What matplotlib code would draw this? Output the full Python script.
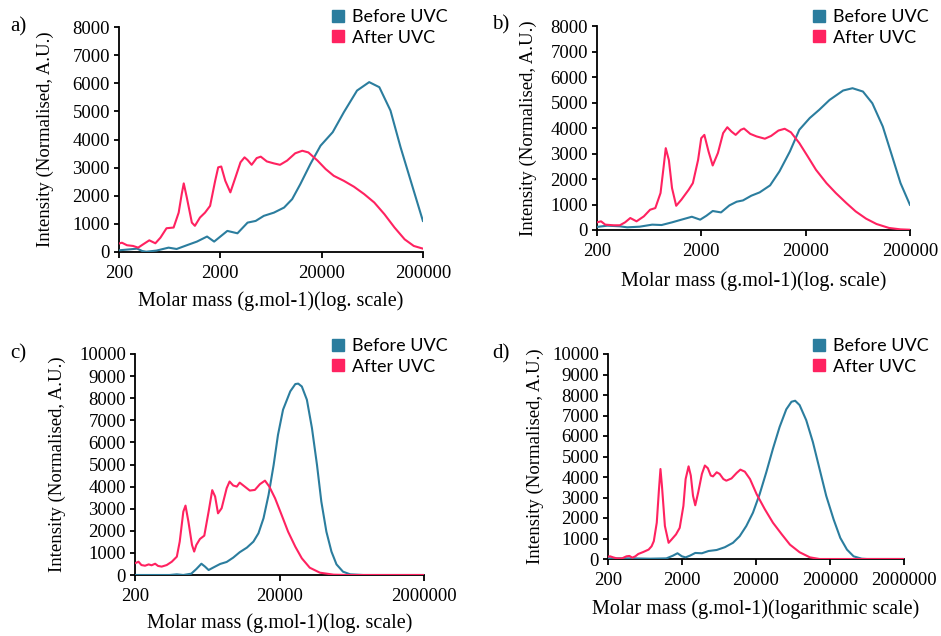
import numpy as np
import matplotlib
matplotlib.use('Agg')
import matplotlib.pyplot as plt
from matplotlib.lines import Line2D
from matplotlib import transforms

# colours
BLUE = '#2b7d9e'
PINK = '#ff2260'

# ---- data: log10(molar mass) and intensity ----
# a)
a_before_logm = [2.30, 2.41, 2.48, 2.53, 2.57, 2.67, 2.79, 2.87, 2.97, 3.07, 3.17, 3.24, 3.37, 3.47, 3.57, 3.65,
                 3.73, 3.83, 3.93, 4.01, 4.09, 4.19, 4.29, 4.41, 4.52, 4.65, 4.77, 4.87, 4.98, 5.08, 5.18, 5.30]
a_before_int = [60, 95, 120, 35, 10, 50, 155, 107, 240, 370, 550, 370, 750, 665, 1045, 1105,
                1285, 1400, 1580, 1880, 2410, 3130, 3780, 4260, 4970, 5740, 6040, 5860, 5030, 3720, 2530, 1105]
a_after_logm = [2.30, 2.33, 2.38, 2.44, 2.49, 2.54, 2.60, 2.66, 2.71, 2.77, 2.84, 2.89, 2.92, 2.94, 2.97, 3.02,
                3.05, 3.10, 3.15, 3.20, 3.25, 3.28, 3.31, 3.35, 3.40, 3.45, 3.50, 3.54, 3.57, 3.61, 3.66, 3.70,
                3.76, 3.83, 3.89, 3.96, 4.04, 4.11, 4.17, 4.26, 4.34, 4.42, 4.52, 4.62, 4.72, 4.82, 4.92, 5.02,
                5.12, 5.21, 5.30]
a_after_int = [300, 330, 240, 215, 155, 275, 415, 310, 510, 845, 870, 1400, 2060, 2440, 1940, 1045,
               930, 1225, 1400, 1640, 2530, 3010, 3040, 2530, 2120, 2650, 3190, 3365, 3270, 3100, 3340, 3390,
               3220, 3150, 3100, 3250, 3510, 3600, 3540, 3250, 2950, 2710, 2530, 2320, 2060, 1760, 1345, 870,
               450, 215, 120]

# b)
b_before_logm = [2.30, 2.40, 2.52, 2.59, 2.71, 2.83, 2.92, 3.02, 3.11, 3.21, 3.29, 3.35, 3.41, 3.49, 3.57, 3.64,
                 3.70, 3.78, 3.86, 3.96, 4.05, 4.15, 4.24, 4.34, 4.43, 4.53, 4.66, 4.75, 4.85, 4.94, 5.04, 5.13,
                 5.21, 5.30]
b_before_int = [120, 170, 145, 105, 130, 210, 195, 300, 405, 520, 405, 560, 745, 690, 965, 1110,
                1160, 1345, 1475, 1750, 2300, 3080, 3930, 4390, 4710, 5100, 5470, 5560, 5430, 4970, 4060, 2890,
                1840, 990]
b_after_logm = [2.30, 2.34, 2.38, 2.46, 2.52, 2.57, 2.62, 2.68, 2.75, 2.81, 2.86, 2.91, 2.94, 2.96, 2.99, 3.02,
                3.06, 3.11, 3.18, 3.22, 3.27, 3.30, 3.33, 3.37, 3.41, 3.46, 3.51, 3.55, 3.59, 3.63, 3.68, 3.71,
                3.77, 3.83, 3.91, 3.97, 4.04, 4.10, 4.16, 4.24, 4.32, 4.40, 4.50, 4.59, 4.69, 4.78, 4.88, 4.98,
                5.10, 5.21, 5.30]
b_after_int = [300, 340, 210, 185, 185, 300, 470, 340, 535, 795, 860, 1450, 2490, 3210, 2740, 1645,
               950, 1190, 1580, 1840, 2750, 3600, 3730, 3080, 2530, 3020, 3800, 4030, 3860, 3730, 3930, 3980,
               3770, 3670, 3580, 3690, 3900, 3970, 3830, 3410, 2890, 2360, 1840, 1450, 1060, 730, 445, 235,
               80, 25, 10]

# c)
c_before_logm = [2.30, 2.78, 2.88, 2.97, 3.08, 3.15, 3.22, 3.27, 3.32, 3.38, 3.48, 3.57, 3.66, 3.75, 3.85, 3.94,
                 4.01, 4.08, 4.15, 4.22, 4.28, 4.35, 4.45, 4.52, 4.56, 4.61, 4.68, 4.75, 4.82, 4.88, 4.95, 5.02,
                 5.09, 5.18, 5.28, 5.46, 6.30]
c_before_int = [0, 0, 30, 0, 60, 270, 510, 380, 225, 330, 500, 590, 785, 1030, 1240, 1510,
                1890, 2570, 3630, 4980, 6340, 7480, 8310, 8640, 8660, 8530, 7930, 6650, 4980, 3320, 1960, 1060,
                480, 150, 30, 0, 0]
c_after_logm = [2.30, 2.35, 2.39, 2.44, 2.49, 2.53, 2.58, 2.62, 2.67, 2.74, 2.81, 2.88, 2.92, 2.97, 3.00, 3.04,
                3.09, 3.12, 3.15, 3.20, 3.26, 3.32, 3.37, 3.41, 3.45, 3.50, 3.57, 3.61, 3.66, 3.71, 3.75, 3.82,
                3.89, 3.96, 4.03, 4.10, 4.16, 4.24, 4.33, 4.42, 4.52, 4.61, 4.72, 4.86, 5.05, 5.23, 6.30]
c_after_int = [530, 600, 450, 420, 480, 440, 510, 410, 380, 450, 600, 830, 1510, 2870, 3140, 2420,
               1360, 1060, 1360, 1630, 1780, 2870, 3840, 3550, 2790, 3020, 3930, 4230, 4050, 4000, 4180, 4000,
               3820, 3850, 4110, 4270, 4000, 3470, 2720, 1960, 1280, 755, 330, 105, 15, 0, 0]

# d)
d_before_logm = [2.30, 2.46, 2.64, 2.87, 3.09, 3.18, 3.24, 3.30, 3.35, 3.41, 3.48, 3.57, 3.66, 3.77, 3.88, 3.99,
                 4.08, 4.17, 4.26, 4.35, 4.44, 4.53, 4.62, 4.71, 4.78, 4.83, 4.89, 4.98, 5.07, 5.16, 5.25, 5.35,
                 5.44, 5.53, 5.62, 5.73, 5.80, 6.30]
d_before_int = [30, 30, 30, 15, 30, 165, 280, 130, 80, 165, 295, 280, 390, 440, 575, 790,
                1110, 1610, 2260, 3160, 4230, 5380, 6440, 7300, 7670, 7720, 7510, 6770, 5700, 4390, 3080, 1930,
                1030, 460, 130, 15, 0, 0]
d_after_logm = [2.30, 2.33, 2.37, 2.42, 2.49, 2.55, 2.59, 2.63, 2.67, 2.71, 2.78, 2.85, 2.89, 2.92, 2.96, 2.99,
                3.01, 3.03, 3.07, 3.12, 3.16, 3.22, 3.27, 3.32, 3.35, 3.39, 3.42, 3.45, 3.48, 3.52, 3.57, 3.61,
                3.65, 3.69, 3.72, 3.77, 3.81, 3.86, 3.90, 3.97, 4.04, 4.09, 4.15, 4.22, 4.31, 4.42, 4.53, 4.65,
                4.76, 4.89, 5.03, 5.16, 6.30]
d_after_int = [115, 130, 80, 30, 30, 130, 150, 65, 130, 245, 345, 460, 620, 870, 1770, 3410,
               4390, 3570, 1610, 790, 950, 1200, 1520, 2590, 3900, 4520, 4070, 3080, 2620, 3250, 4150, 4560,
               4430, 4070, 4030, 4230, 4150, 3900, 3820, 3930, 4200, 4360, 4260, 3900, 3160, 2430, 1770, 1200,
               700, 330, 80, 0, 0]

xticks_short = [200, 2000, 20000, 200000]
xticks_c = [200, 20000, 2000000]
xticks_d = [200, 2000, 20000, 200000, 2000000]
yticks_8 = list(range(0, 8001, 1000))
yticks_10 = list(range(0, 10001, 1000))

W, H = 941, 636
fig = plt.figure(figsize=(W / 100, H / 100), dpi=100)
SERIF = 'Liberation Serif'
SANS = 'Lato'


def px_axes(left, top, right, bottom):
    return fig.add_axes([left / W, 1 - bottom / H, (right - left) / W, (bottom - top) / H])


def panel(ax, letter, before_logm, before_int, after_logm, after_int, xlim, xticks, yticks,
          xlabel, letter_pos, ylab_x, xlab_y, leg_pos):
    ax.plot(10 ** np.array(before_logm), before_int, color=BLUE, lw=1.5, zorder=3)
    ax.plot(10 ** np.array(after_logm), after_int, color=PINK, lw=1.5, zorder=3)
    ax.set_xscale('log')
    ax.set_xlim(*xlim)
    ax.set_ylim(yticks[0], yticks[-1])
    ax.set_xticks(xticks)
    ax.set_xticklabels([str(t) for t in xticks])
    ax.xaxis.set_minor_locator(matplotlib.ticker.NullLocator())
    ax.set_yticks(yticks)
    ax.set_yticklabels([str(t) for t in yticks])
    for s in ['top', 'right']:
        ax.spines[s].set_visible(False)
    for s in ['left', 'bottom']:
        ax.spines[s].set_linewidth(1.3)
    ax.tick_params(axis='x', direction='out', length=4.5, width=1.3, pad=5, labelsize=13.5)
    ax.tick_params(axis='y', direction='out', length=3.5, width=1.3, pad=3, labelsize=13.5)
    for lab in ax.get_xticklabels() + ax.get_yticklabels():
        lab.set_fontfamily(SERIF)
    ax.set_ylabel('Intensity (Normalised, A.U.)', fontsize=13.5, fontfamily=SERIF, va='center')
    ax.yaxis.label.set_transform(transforms.blended_transform_factory(fig.transFigure, ax.transAxes))
    ax.yaxis.label.set_position((ylab_x / W, 0.5))
    ax.yaxis.set_label_coords(ylab_x / W, 0.5,
                              transform=transforms.blended_transform_factory(fig.transFigure, ax.transAxes))
    pos = ax.get_position()
    fig.text((pos.x0 + pos.x1) / 2, 1 - xlab_y / H, xlabel, ha='center', va='center',
             fontsize=14.5, fontfamily=SERIF)
    fig.text(letter_pos[0] / W, 1 - letter_pos[1] / H, letter, ha='left', va='center',
             fontsize=15, fontfamily=SERIF)
    handles = [Line2D([], [], ls='none', marker='s', ms=8, color=BLUE),
               Line2D([], [], ls='none', marker='s', ms=8, color=PINK)]
    fig.legend(handles, ['Before UVC', 'After UVC'], loc='upper left',
               bbox_to_anchor=(leg_pos[0] / W, 1 - leg_pos[1] / H), frameon=False,
               prop={'family': SANS, 'size': 13}, handlelength=0.7, handletextpad=0.4,
               labelspacing=0.25, borderpad=0, borderaxespad=0)


ax_a = px_axes(119, 27, 423, 252)
panel(ax_a, 'a)', a_before_logm, a_before_int, a_after_logm, a_after_int, (200, 200000), xticks_short,
      yticks_8, 'Molar mass (g.mol-1)(log. scale)', (10, 27), 45, 301, (332, 9))

ax_b = px_axes(597, 26, 910, 230)
panel(ax_b, 'b)', b_before_logm, b_before_int, b_after_logm, b_after_int, (200, 200000), xticks_short,
      yticks_8, 'Molar mass (g.mol-1)(log. scale)', (492, 25), 528, 281, (813, 9))

ax_c = px_axes(135, 354, 424, 575)
panel(ax_c, 'c)', c_before_logm, c_before_int, c_after_logm, c_after_int, (200, 2000000), xticks_c,
      yticks_10, 'Molar mass (g.mol-1)(log. scale)', (10, 354), 57, 623, (332, 338))

ax_d = px_axes(608, 354, 904, 559)
panel(ax_d, 'd)', d_before_logm, d_before_int, d_after_logm, d_after_int, (200, 2000000), xticks_d,
      yticks_10, 'Molar mass (g.mol-1)(logarithmic scale)', (492, 354), 535, 609, (813, 338))

fig.savefig('out.png', dpi=100)
